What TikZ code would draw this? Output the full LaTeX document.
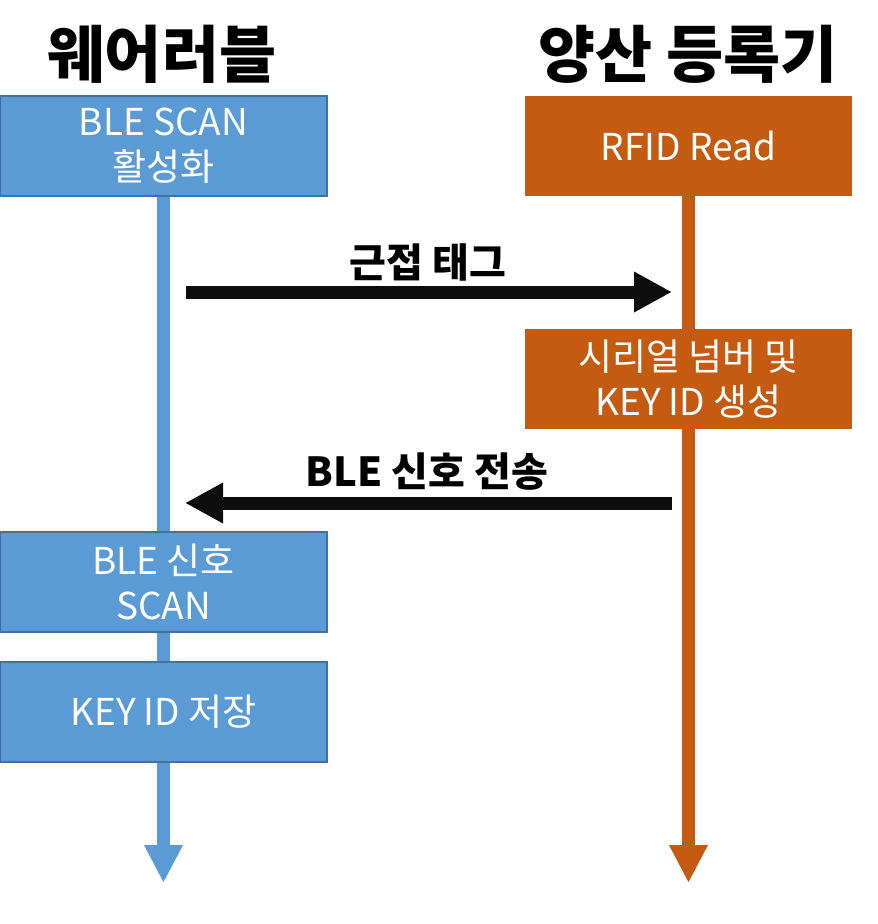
\documentclass[tikz,border=0pt]{standalone}
\usepackage{fontspec}
\setmainfont{Noto Sans CJK KR}
\usepackage{xcolor}
\usetikzlibrary{arrows.meta,positioning,calc}
\definecolor{wearblue}{HTML}{5B9BD5}
\definecolor{wearedge}{HTML}{41719C}
\definecolor{regorange}{HTML}{C55A11}
\definecolor{msgblack}{HTML}{0D0D0D}

\begin{document}
\begin{tikzpicture}[
  x=1pt, y=-1pt,
  title/.style={
    font=\fontsize{62}{66}\selectfont\bfseries,
    text=black
  },
  box/.style={
    rectangle,
    align=center,
    inner sep=0pt,
    minimum width=327pt,
    minimum height=100pt,
    text=white,
    font=\fontsize{37}{45}\selectfont
  },
  wearbox/.style={
    box,
    fill=wearblue,
    draw=wearedge,
    line width=2pt
  },
  regbox/.style={
    box,
    fill=regorange
  },
  lifeline/.style={
    line width=13pt,
    -{Triangle[width=36pt,length=38pt]}
  },
  msg/.style={
    draw=msgblack,
    line width=13pt,
    -{Triangle[width=38pt,length=38pt]}
  },
  lab/.style={
    font=\fontsize{40}{44}\selectfont\bfseries,
    text=black
  }
]
\useasboundingbox (0,0) rectangle (878,924);

% Column titles
\node[title] (twear) at (162,54) {웨어러블};
\node[title] (treg)  at (688,54) {양산 등록기};

% Lifeline ends
\coordinate (wend) at (163.5,883);
\coordinate (rend) at (688.5,883);

% Message end points
\coordinate (m1s) at (186,292);
\coordinate (m1e) at (672,292);
\coordinate (m2s) at (672,503);
\coordinate (m2e) at (185,503);

% Lifelines (drawn below the boxes)
\path (163.5,196) coordinate (wtop) (688.5,196) coordinate (rtop);
\draw[lifeline, draw=wearblue, fill=wearblue] (wtop) -- (wend);
\draw[lifeline, draw=regorange, fill=regorange] (rtop) -- (rend);

% Wearable boxes
\node[wearbox] (scan)  at (163.5,146) {BLE SCAN\\활성화};
\node[wearbox] (bscan) at (163.5,582) {BLE 신호\\SCAN};
\node[wearbox] (store) at (163.5,712) {KEY ID 저장};

% Registration device boxes
\node[regbox] (rfid) at (688.5,146) {RFID Read};
\node[regbox] (gen)  at (688.5,379) {시리얼 넘버 및\\KEY ID 생성};

% Messages
\draw[msg, fill=msgblack] (m1s) -- (m1e);
\node[lab] (l1) at (428,262) {근접 태그};
\draw[msg, fill=msgblack] (m2s) -- (m2e);
\node[lab] (l2) at (427,472) {BLE 신호 전송};

\end{tikzpicture}
\end{document}
